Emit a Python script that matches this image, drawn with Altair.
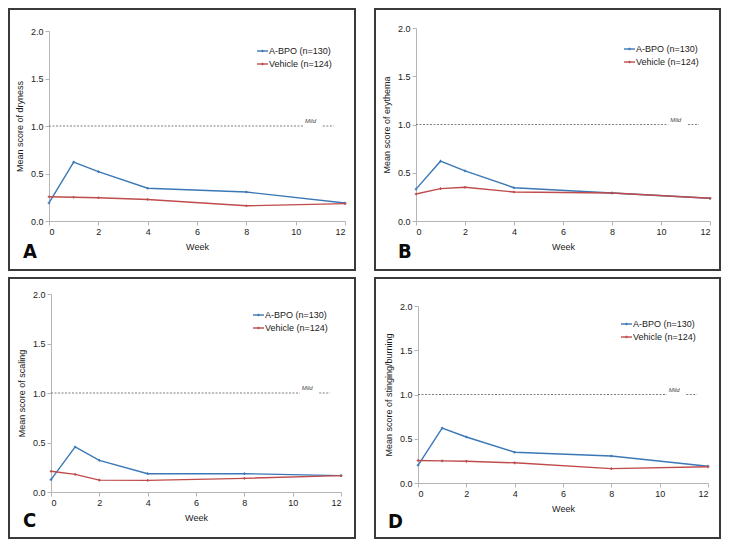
import altair as alt
import pandas as pd

weeks = [0, 1, 2, 4, 8, 12]
series_names = ["A-BPO (n=130)", "Vehicle (n=124)"]
series_colors = ["#3b78b5", "#bf4b4b"]

dryness_abpo = [0.19, 0.62, 0.52, 0.345, 0.305, 0.19]
dryness_vehicle = [0.255, 0.25, 0.245, 0.227, 0.16, 0.183]
erythema_abpo = [0.33, 0.62, 0.52, 0.345, 0.29, 0.235]
erythema_vehicle = [0.28, 0.335, 0.35, 0.30, 0.29, 0.235]
scaling_abpo = [0.125, 0.455, 0.32, 0.185, 0.185, 0.165]
scaling_vehicle = [0.21, 0.178, 0.12, 0.117, 0.138, 0.165]
stinging_abpo = [0.2, 0.62, 0.52, 0.348, 0.305, 0.19]
stinging_vehicle = [0.255, 0.25, 0.245, 0.228, 0.162, 0.183]

x_ticks = [0, 2, 4, 6, 8, 10, 12]
y_ticks = [0.0, 0.5, 1.0, 1.5, 2.0]
mild_level = 1.0
mild_seg_start = [0, 11.1]
mild_seg_end = [10.3, 11.55]
mild_label_x = 10.6

FONT = "Liberation Sans"
LETTER_FONT = "DejaVu Sans Condensed, Liberation Sans Narrow, DejaVu Sans"


def panel(ytitle, abpo, veh, W, H, xr, yr, frame, letter, letter_pos, leg_x, leg_y, yoff):
    rows = []
    for name, vals in zip(series_names, [abpo, veh]):
        for w, v in zip(weeks, vals):
            rows.append({"week": w, "value": v, "series": name})
    df = pd.DataFrame(rows)

    xenc = alt.X("week:Q", scale=alt.Scale(domain=[0, 12], nice=False, range=xr),
                 axis=alt.Axis(values=x_ticks, title="Week", titlePadding=6))
    yenc = alt.Y("value:Q", scale=alt.Scale(domain=[0, 2], nice=False, range=yr),
                 axis=alt.Axis(values=y_ticks, format=".1f", title=ytitle, titlePadding=6, offset=yoff))
    color = alt.Color("series:N", scale=alt.Scale(domain=series_names, range=series_colors), legend=None)

    base = alt.Chart(df)
    lines = base.mark_line(strokeWidth=1.4).encode(x=xenc, y=yenc, color=color, detail="series:N")
    pts = base.mark_point(shape="cross", size=7, filled=True, opacity=1).encode(
        x="week:Q", y="value:Q", color=color)

    mild_df = pd.DataFrame({"x": mild_seg_start, "x2": mild_seg_end, "y": [mild_level] * 2})
    mild = alt.Chart(mild_df).mark_rule(strokeDash=[2, 1.5], color="#6f6f6f", strokeWidth=0.9).encode(
        x="x:Q", x2="x2:Q", y="y:Q")
    mild_txt = alt.Chart(pd.DataFrame({"x": [mild_label_x], "y": [mild_level], "t": ["Mild"]})).mark_text(
        font=FONT, fontSize=6, fontStyle="italic", color="#444", dy=-5).encode(x="x:Q", y="y:Q", text="t:N")

    layers = [mild, mild_txt, lines, pts]

    for i, (name, col) in enumerate(zip(series_names, series_colors)):
        ldf = pd.DataFrame({"series": [name]})
        yy = leg_y + 13 * i
        layers.append(alt.Chart(ldf).mark_rule(strokeWidth=1.4, color=col).encode(
            x=alt.value(leg_x), x2=alt.value(leg_x + 11), y=alt.value(yy)))
        layers.append(alt.Chart(ldf).mark_point(shape="cross", size=7, filled=True, opacity=1, color=col).encode(
            x=alt.value(leg_x + 5.5), y=alt.value(yy)))
        layers.append(alt.Chart(ldf).mark_text(font=FONT, fontSize=9, align="left", baseline="middle",
                                               color="#1a1a1a").encode(
            x=alt.value(leg_x + 12), y=alt.value(yy), text="series:N"))

    fx0, fx1, fy0, fy1 = frame
    fr = alt.Chart(pd.DataFrame({"a": [0]})).mark_rect(
        fillOpacity=0, stroke="#3a3a3a", strokeWidth=2, clip=False).encode(
        x=alt.value(fx0), x2=alt.value(fx1), y=alt.value(fy0), y2=alt.value(fy1))
    lx, ly = letter_pos
    let = alt.Chart(pd.DataFrame({"t": [letter]})).mark_text(
        font=LETTER_FONT, fontWeight="bold", fontSize=20, align="left",
        baseline="alphabetic", color="#0a0a0a").encode(
        x=alt.value(lx), y=alt.value(ly), text="t:N")
    layers += [fr, let]
    return alt.layer(*layers).properties(width=W, height=H)


A = panel("Mean score of dryness", dryness_abpo, dryness_vehicle, 296, 193, [0, 296], [193, 3],
          (-40, 306, -19, 242), "A", (-26, 230), 208, 23, 0)
B = panel("Mean score of erythema", erythema_abpo, erythema_vehicle, 294, 193, [0, 294], [193, 0],
          (-41, 304, -19, 242), "B", (-18, 230), 208, 21, 0)
C = panel("Mean score of scaling", scaling_abpo, scaling_vehicle, 292, 198, [2, 292], [198, 0],
          (-40, 306, -16, 244), "C", (-26, 233), 204, 21, -2)
D = panel("Mean score of stinging/burning", stinging_abpo, stinging_vehicle, 292, 189, [2, 292], [189, 12],
          (-41, 304, -16, 244), "D", (-28, 234), 205, 30, -2)

chart = alt.concat(A, B, C, D, columns=2, spacing={"row": 73, "column": 71}, bounds="flush").properties(
    padding={"left": 0, "top": 0, "right": 0, "bottom": 0}
).configure_view(stroke=None).configure_axis(
    grid=False, domainColor="#b5b5b5", tickColor="#b5b5b5", tickSize=4,
    labelFont=FONT, labelFontSize=9, labelColor="#222", labelPadding=2,
    titleFont=FONT, titleFontSize=9, titleFontWeight="normal", titleColor="#1a1a1a"
)

chart.save("out.html", embed_options={"renderer": "svg", "actions": False})
